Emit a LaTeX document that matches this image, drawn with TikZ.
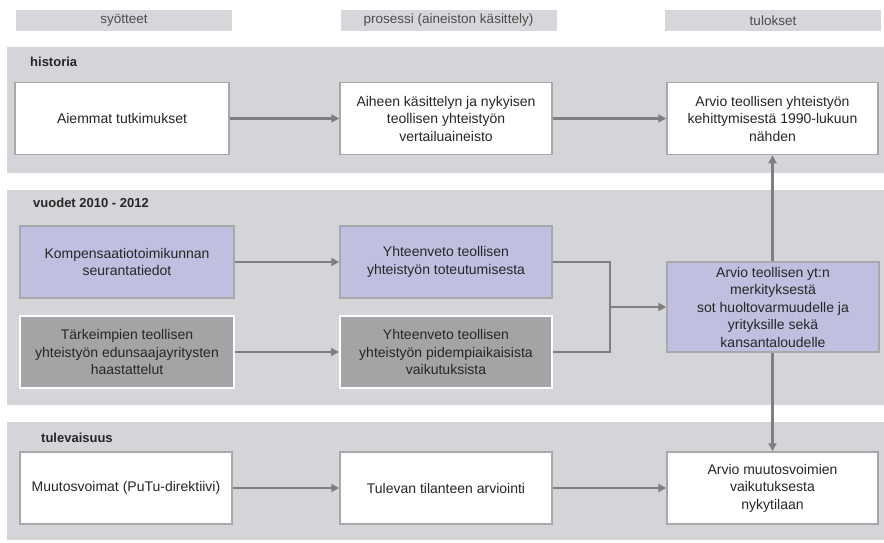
\documentclass[tikz,border=0pt]{standalone}
\usepackage{fontspec}
\setmainfont{Liberation Sans}
\usetikzlibrary{arrows.meta}
\definecolor{bandgray}{HTML}{D4D5D8}
\definecolor{headgray}{HTML}{D6D7DA}
\definecolor{lav}{HTML}{BFBFE0}
\definecolor{darkbox}{HTML}{A4A4A6}
\definecolor{edgegray}{HTML}{A8A8AA}
\definecolor{arrowgray}{HTML}{7F7F82}
\tikzset{
  band/.style={fill=bandgray, draw=none},
  head/.style={fill=headgray, draw=none, minimum width=216pt, minimum height=21pt, inner sep=0pt, font=\fontsize{13.5}{15}\selectfont, text=black!70},
  bandlabel/.style={anchor=west, font=\fontsize{13}{15}\selectfont\bfseries, inner sep=0pt, text=black!85},
  basebox/.style={rectangle, minimum height=72pt, align=center, inner sep=2pt, font=\fontsize{14}{17.5}\selectfont, text=black!85},
  whitebox/.style={basebox, fill=white, draw=edgegray, line width=1.5pt, minimum width=212pt},
  lavbox/.style={basebox, fill=lav, draw=edgegray, line width=1.5pt, minimum width=212pt},
  darkbox/.style={basebox, fill=darkbox, draw=white, line width=2pt, minimum width=212pt},
  conn/.style={draw=arrowgray, line width=2.6pt},
  arr/.style={conn, -{Triangle[length=8pt,width=8pt]}},
}
\begin{document}
\begin{tikzpicture}[x=1pt,y=-1pt]
\useasboundingbox (0,0) rectangle (884,543);
% header bars
\node[head] (h1) at (124,20.5) {syötteet};
\node[head] (h2) at (448.5,20.5) {prosessi (aineiston käsittely)};
\node[head] (h3) at (773,20.5) {tulokset};
% bands
\fill[band] (7,47) rectangle (884,173);
\fill[band] (7,190) rectangle (884,405);
\fill[band] (7,422) rectangle (884,540);
\node[bandlabel] (l1) at (30,62) {historia};
\node[bandlabel] (l2) at (33,203) {vuodet 2010 - 2012};
\node[bandlabel] (l3) at (41,438) {tulevaisuus};
% row 1
\node[whitebox, minimum width=214pt] (a1) at (122,118.5) {Aiemmat tutkimukset};
\node[whitebox] (b1) at (446,118.5) {Aiheen käsittelyn ja nykyisen\\teollisen yhteistyön\\vertailuaineisto};
\node[whitebox, minimum width=211pt] (c1) at (772.5,118.5) {Arvio teollisen yhteistyön\\kehittymisestä 1990-lukuun\\nähden};
% row 2
\node[lavbox, minimum width=214pt] (a2) at (127,262) {Kompensaatiotoimikunnan\\seurantatiedot};
\node[darkbox, minimum width=214pt] (a3) at (127,352) {Tärkeimpien teollisen\\yhteistyön edunsaajayritysten\\haastattelut};
\node[lavbox] (b2) at (446,262) {Yhteenveto teollisen\\yhteistyön toteutumisesta};
\node[darkbox] (b3) at (446,352) {Yhteenveto teollisen\\yhteistyön pidempiaikaisista\\vaikutuksista};
\node[lavbox, minimum height=90pt] (c2) at (773,307) {Arvio teollisen yt:n\\merkityksestä\\sot huoltovarmuudelle ja\\yrityksille sekä\\kansantaloudelle};
% row 3
\node[whitebox] (a4) at (126,488) {Muutosvoimat (PuTu-direktiivi)};
\node[whitebox] (b4) at (446,488) {Tulevan tilanteen arviointi};
\node[whitebox, minimum width=211pt] (c4) at (772.5,488) {Arvio muutosvoimien\\vaikutuksesta\\nykytilaan};
% connectors
\coordinate (j) at (610,307);
\draw[arr] (a1) -- (b1);
\draw[arr] (b1) -- (c1);
\draw[arr] (a2) -- (b2);
\draw[arr] (a3) -- (b3);
\draw[conn] (b2.east) -| (j);
\draw[conn] (b3.east) -| (j);
\draw[arr] (j) -- (c2.west);
\draw[arr] (c2.north -| c1.south) -- (c1.south);
\draw[arr] (c2.south -| c4.north) -- (c4.north);
\draw[arr] (a4) -- (b4);
\draw[arr] (b4) -- (c4);
\end{tikzpicture}
\end{document}
